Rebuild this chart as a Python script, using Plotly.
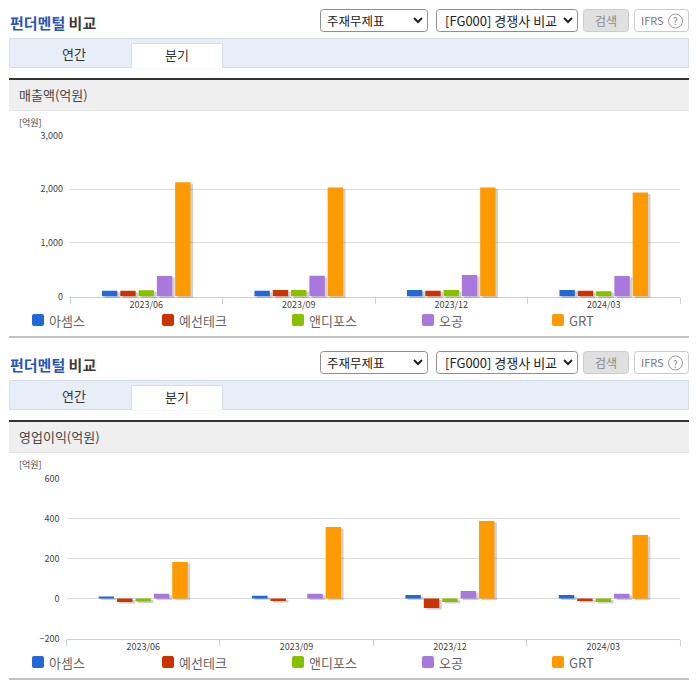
import plotly.graph_objects as go

W, H = 696, 684
FONT = "Noto Sans CJK KR"

periods = ["2023/06", "2023/09", "2023/12", "2024/03"]
companies = ["아셈스", "예선테크", "앤디포스", "오공", "GRT"]
colors = ["#2268d8", "#cc3300", "#88c000", "#a878dc", "#ff9a00"]

sales = [
    [105, 105, 120, 120],
    [105, 120, 105, 105],
    [118, 120, 120, 100],
    [380, 385, 400, 380],
    [2130, 2030, 2030, 1940],
]
profit = [
    [10, 14, 17, 17],
    [-18, -13, -48, -12],
    [-15, 0, -17, -18],
    [24, 24, 37, 24],
    [183, 357, 388, 318],
]

sales_ticks = [0, 1000, 2000, 3000]
profit_ticks = [-200, 0, 200, 400, 600]


def px(x):
    return x / W


def py(y):
    return 1 - y / H


shapes = []
notes = []


def rect(x0, y0, x1, y1, fill="rgba(0,0,0,0)", line=None, width=1):
    shapes.append(dict(
        type="rect", xref="paper", yref="paper", layer="below",
        x0=px(x0), x1=px(x1), y0=py(y0), y1=py(y1),
        fillcolor=fill, line=dict(color=line or "rgba(0,0,0,0)", width=width if line else 0),
    ))


def box(x0, y0, x1, y1, r, fill, line):
    # rounded corners for the select boxes, buttons and legend swatches
    p = (
        f"M {px(x0 + r)} {py(y0)} L {px(x1 - r)} {py(y0)} Q {px(x1)} {py(y0)} {px(x1)} {py(y0 + r)} "
        f"L {px(x1)} {py(y1 - r)} Q {px(x1)} {py(y1)} {px(x1 - r)} {py(y1)} "
        f"L {px(x0 + r)} {py(y1)} Q {px(x0)} {py(y1)} {px(x0)} {py(y1 - r)} "
        f"L {px(x0)} {py(y0 + r)} Q {px(x0)} {py(y0)} {px(x0 + r)} {py(y0)} Z"
    )
    shapes.append(dict(
        type="path", xref="paper", yref="paper", path=p, fillcolor=fill,
        line=dict(color=line, width=1 if line != fill else 0),
    ))


def chevron(x, y):
    p = f"M {px(x - 4)} {py(y - 2)} L {px(x)} {py(y + 2)} L {px(x + 4)} {py(y - 2)}"
    shapes.append(dict(type="path", xref="paper", yref="paper", path=p, line=dict(color="#222", width=2)))


def text(x, y, s, size=12, color="#444", anchor="left"):
    notes.append(dict(
        x=px(x), y=py(y), xref="paper", yref="paper", text=s, showarrow=False,
        xanchor=anchor, yanchor="middle", borderpad=0, borderwidth=0,
        font=dict(family=FONT, size=size, color=color),
    ))


def page_block(off, heading):
    text(9.5, 23 + off, "<b><span style='color:#2b55b5'>펀더멘털</span> 비교</b>", 15, "#3c3c3c")

    box(320.5, 9.5 + off, 427.5, 31.5 + off, 3, "#ffffff", "#8f8f8f")
    text(327, 20.5 + off, "주재무제표", 12.5, "#222")
    chevron(418, 20 + off)
    box(436.5, 9.5 + off, 577.5, 31.5 + off, 3, "#ffffff", "#8f8f8f")
    text(445, 20.5 + off, "[FG000] 경쟁사 비교", 13, "#222")
    chevron(568, 20 + off)
    box(583.5, 9.5 + off, 628.5, 31.5 + off, 3, "#e0e0e0", "#cccccc")
    text(606, 20.5 + off, "검색", 12, "#8a8a8a", "center")
    box(634.5, 9.5 + off, 688.5, 31.5 + off, 3, "#ffffff", "#cccccc")
    text(641, 20 + off, "IFRS", 11, "#777777")
    shapes.append(dict(
        type="circle", xref="paper", yref="paper",
        x0=px(668.5), x1=px(682.5), y0=py(14 + off), y1=py(28 + off),
        line=dict(color="#999", width=1),
    ))
    text(675.5, 21 + off, "?", 10, "#888", "center")

    rect(9.5, 38.5 + off, 688.5, 67.5 + off, "#e7eef8", "#d6dee8")
    rect(131.5, 43.5 + off, 222.5, 68 + off, "#ffffff", "#d6dee8")
    rect(132, 66 + off, 222, 68.5 + off, "#ffffff")
    text(74, 53.5 + off, "연간", 13, "#333", "center")
    text(177, 54 + off, "분기", 13, "#333", "center")

    rect(9, 78 + off, 689, 110.5 + off, "#efefef")
    rect(9, 78 + off, 689, 80 + off, "#333333")
    rect(9, 110 + off, 689, 111 + off, "#e4e4e4")
    text(19, 95 + off, heading, 13, "#444")
    text(19, 122.5 + off, "[억원]", 9, "#444")

    for i, name in enumerate(companies):
        left = 32 + 130 * i
        box(left, 314 + off, left + 12, 326 + off, 2, colors[i], colors[i])
        text(left + 17, 320 + off, name, 13, "#666")
    rect(9, 336 + off, 689, 338 + off, "#c4c4c4")


fig = go.Figure()
layout_axes = {}
axis_no = 0


def chart(values, ticks, left, right, top, bottom):
    global axis_no
    dom_x = [px(left), px(right)]
    dom_y = [py(bottom), py(top)]
    yrange = [ticks[0], ticks[-1]]

    # base axes carry grid, ticks and labels; two more pairs hold shadow and bars
    base = axis_no + 1
    shadow = axis_no + 2
    real = axis_no + 3
    axis_no += 3

    def key(n, a):
        return f"{a}axis" if n == 1 else f"{a}axis{n}"

    def ref(n, a):
        return a if n == 1 else f"{a}{n}"

    layout_axes[key(base, "x")] = dict(
        domain=dom_x, anchor=ref(base, "y"), type="category", range=[-0.5, 3.5],
        categoryorder="array", categoryarray=periods, tickson="boundaries", automargin=False,
        ticks="outside", ticklen=6, tickcolor="#c5d0dc", showline=True, linecolor="#c5d0dc",
        showgrid=False, zeroline=False, tickfont=dict(family=FONT, size=9, color="#444"),
    )
    layout_axes[key(base, "y")] = dict(
        domain=dom_y, anchor=ref(base, "x"), range=yrange, tickmode="array", tickvals=ticks,
        tickformat=",", gridcolor="#dcdcdc", gridwidth=1, zeroline=False, showline=False,
        ticks="", ticklabelstandoff=6, automargin=False, tickfont=dict(family=FONT, size=9, color="#444"),
    )
    # an invisible trace so the base axes get drawn
    fig.add_trace(go.Bar(
        x=periods, y=values[-1], marker_color="rgba(0,0,0,0)", marker_line_width=0,
        xaxis=ref(base, "x"), yaxis=ref(base, "y"), showlegend=False, hoverinfo="skip",
    ))
    for n, dx, dy in [(shadow, 2.5, 1.5), (real, 0, 0)]:
        layout_axes[key(n, "x")] = dict(
            domain=[px(left + dx), px(right + dx)], anchor=ref(n, "y"), type="category",
            range=[-0.5, 3.5], categoryorder="array", categoryarray=periods, visible=False,
        )
        layout_axes[key(n, "y")] = dict(
            domain=[py(bottom + dy), py(top + dy)], anchor=ref(n, "x"), range=yrange, visible=False,
        )

    for n, is_shadow in [(shadow, True), (real, False)]:
        for i, name in enumerate(companies):
            fig.add_trace(go.Bar(
                x=periods, y=values[i], name=name,
                marker_color="rgba(90,90,90,0.28)" if is_shadow else colors[i],
                marker_line_width=0,
                offsetgroup=str(i),
                xaxis=ref(n, "x"), yaxis=ref(n, "y"),
                showlegend=False,
                hoverinfo="skip" if is_shadow else None,
            ))


page_block(0, "매출액(억원)")
page_block(342, "영업이익(억원)")
chart(sales, sales_ticks, 70, 680, 135.5, 296.5)
chart(profit, profit_ticks, 66.5, 680, 478.5, 638.5)

fig.update_layout(
    width=W,
    height=H,
    margin=dict(l=0, r=0, t=0, b=0, autoexpand=False),
    paper_bgcolor="#ffffff",
    plot_bgcolor="rgba(0,0,0,0)",
    barmode="group",
    bargap=0.4,
    bargroupgap=0.16,
    showlegend=False,
    shapes=shapes,
    annotations=notes,
    **layout_axes,
)

fig.write_html("out.html", post_script="document.body.style.margin='0';", config={"displayModeBar": False})
